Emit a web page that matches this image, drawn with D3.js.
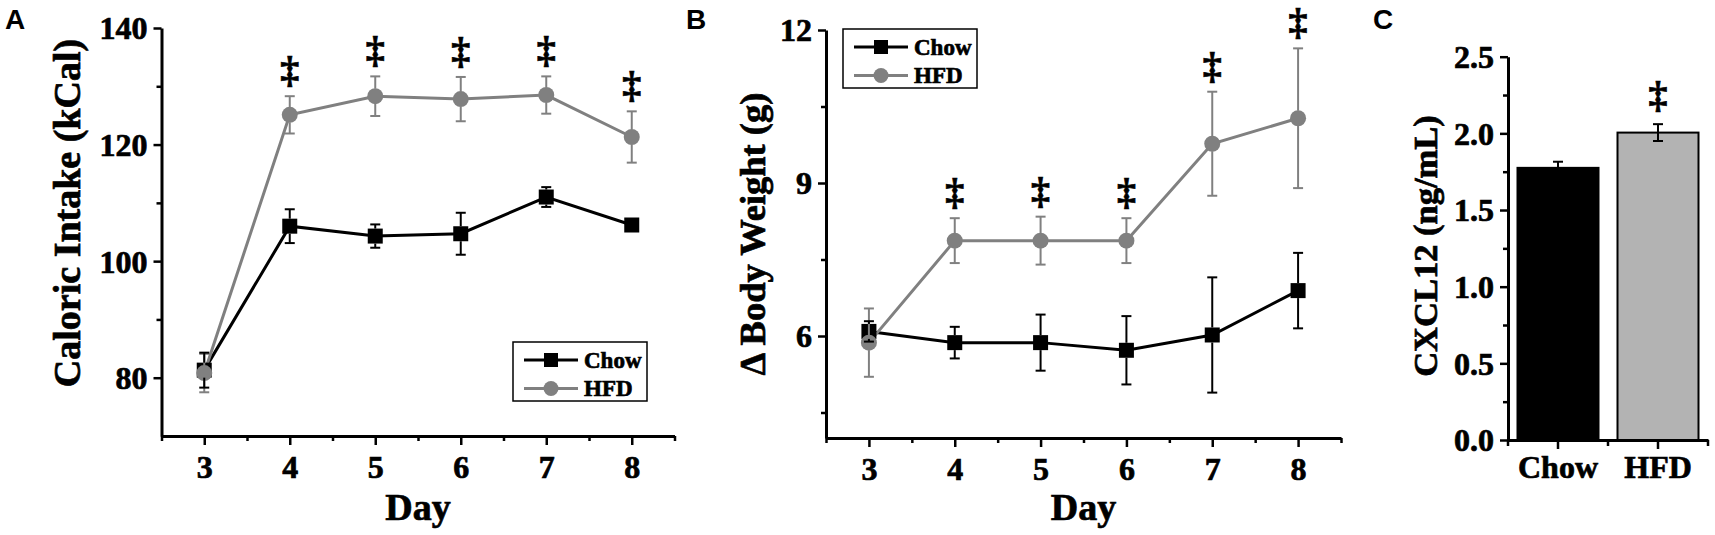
<!DOCTYPE html>
<html>
<head>
<meta charset="utf-8">
<script src="https://cdn.jsdelivr.net/npm/d3@7/dist/d3.min.js"></script>
<style>
  html, body { margin: 0; padding: 0; background: #fff; }
  svg { display: block; }
  text { font-family: "Liberation Serif", "Times New Roman", serif; font-weight: bold; fill: #000; }
  .panel-letter { font-family: "Liberation Sans", Arial, sans-serif; font-weight: bold; }
  .heavy { stroke: #000; stroke-width: 0.7px; paint-order: stroke; }
</style>
</head>
<body>
<svg id="chart" width="1715" height="535"></svg>
<script>
// ---------------- DATA ----------------
const days = [3, 4, 5, 6, 7, 8];
const seriesNames = ["Chow", "HFD"];

// Panel A: Caloric intake (kCal)
const caloricChow    = [81.3, 106.0, 104.3, 104.7, 111.0, 106.2];
const caloricChowErr = [3.0, 2.9, 2.0, 3.6, 1.7, 1.0];
const caloricHFD     = [80.8, 125.1, 128.3, 127.8, 128.5, 121.3];
const caloricHFDErr  = [3.3, 3.2, 3.4, 3.8, 3.2, 4.4];
const caloricSig     = [false, true, true, true, true, true];
const caloricTicks   = [80, 100, 120, 140];
const caloricMinor   = [90, 110, 130];

// Panel B: Delta body weight (g)
const weightChow    = [6.09, 5.87, 5.87, 5.72, 6.02, 6.89];
const weightChowErr = [0.20, 0.31, 0.55, 0.67, 1.13, 0.74];
const weightHFD     = [5.87, 7.87, 7.87, 7.87, 9.77, 10.27];
const weightHFDErr  = [0.67, 0.44, 0.47, 0.44, 1.02, 1.37];
const weightSig     = [false, true, true, true, true, true];
const weightTicks   = [6, 9, 12];
const weightMinor   = [4.5, 7.5, 10.5];

// Panel C: CXCL12 (ng/mL)
const cxclGroups = ["Chow", "HFD"];
const cxclValues = [1.775, 2.005];
const cxclErr    = [0.04, 0.055];
const cxclSig    = [false, true];
const cxclTicks  = [0, 0.5, 1.0, 1.5, 2.0, 2.5];
const cxclMinor  = [0.25, 0.75, 1.25, 1.75, 2.25];

const dayTicks  = [3, 4, 5, 6, 7, 8];
const dayMinor  = [2.5, 3.5, 4.5, 5.5, 6.5, 7.5, 8.5];

// ---------------- STYLE ----------------
const BLACK = "#000000";
const GRAY = "#808080";
const TICK_FONT = 32;
const DAGGER_FONT = 38;
const svg = d3.select("#chart");

function styleAxis(g) {
  g.select(".domain").attr("stroke", "#000").attr("stroke-width", 3);
  g.selectAll(".tick line").attr("stroke", "#000").attr("stroke-width", 2.5);
  g.selectAll(".tick text").attr("font-size", TICK_FONT).attr("fill", "#000").attr("class", "heavy");
}

function linePanel(opts) {
  const { x, y, chow, chowErr, hfd, hfdErr, sig, yTicks, yMinor, yFmt, ylabel, ylabelPos, ylabelSize, legend } = opts;
  const g = svg.append("g");
  const [x0, x1] = x.range();
  const [yb, yt] = y.range();

  // axes
  const gy = g.append("g").attr("transform", `translate(${x0},0)`)
    .call(d3.axisLeft(y).tickValues(yTicks).tickSize(8).tickSizeOuter(0).tickPadding(6).tickFormat(yFmt));
  styleAxis(gy);
  gy.selectAll(".tick text").attr("dy", "0.34em");
  const gym = g.append("g").attr("transform", `translate(${x0},0)`)
    .call(d3.axisLeft(y).tickValues(yMinor).tickSize(5).tickFormat(""));
  gym.select(".domain").remove();
  gym.selectAll(".tick line").attr("stroke", "#000").attr("stroke-width", 2.5);

  const gx = g.append("g").attr("transform", `translate(0,${yb})`)
    .call(d3.axisBottom(x).tickValues(dayTicks).tickSize(9).tickSizeOuter(0).tickPadding(10).tickFormat(d3.format("d")));
  styleAxis(gx);
  const gxm = g.append("g").attr("transform", `translate(0,${yb})`)
    .call(d3.axisBottom(x).tickValues(dayMinor).tickSize(5).tickFormat(""));
  gxm.select(".domain").remove();
  gxm.selectAll(".tick line").attr("stroke", "#000").attr("stroke-width", 2.5);

  // axis titles
  g.append("text").attr("class", "heavy").attr("x", (x0 + x1) / 2).attr("y", 520).attr("text-anchor", "middle")
    .attr("font-size", 38).text("Day");
  g.append("text").attr("class", "heavy").attr("transform", `translate(${ylabelPos[0]},${ylabelPos[1]}) rotate(-90)`)
    .attr("text-anchor", "middle").attr("dy", "0.25em").attr("font-size", ylabelSize).text(ylabel);

  const series = [
    { vals: chow, err: chowErr, color: BLACK, shape: "square" },
    { vals: hfd, err: hfdErr, color: GRAY, shape: "circle" }
  ];
  const line = d3.line().x((d, i) => x(days[i])).y(d => y(d));

  // lines
  series.forEach(s => {
    g.append("path").datum(s.vals).attr("d", line).attr("fill", "none")
      .attr("stroke", s.color).attr("stroke-width", 3);
  });
  // markers
  series.forEach(s => {
    if (s.shape === "square") {
      g.selectAll(null).data(s.vals).join("rect")
        .attr("x", (d, i) => x(days[i]) - 7.5).attr("y", d => y(d) - 7.5)
        .attr("width", 15).attr("height", 15).attr("fill", s.color);
    } else {
      g.selectAll(null).data(s.vals).join("circle")
        .attr("cx", (d, i) => x(days[i])).attr("cy", d => y(d)).attr("r", 8).attr("fill", s.color);
    }
  });
  // error bars (HFD then Chow)
  [series[1], series[0]].forEach(s => {
    s.vals.forEach((v, i) => {
      const cx = x(days[i]);
      const top = y(v + s.err[i]), bot = y(v - s.err[i]);
      if (top < y(v) - 7.5) g.append("line").attr("x1", cx).attr("x2", cx).attr("y1", top).attr("y2", y(v) - 7.5)
        .attr("stroke", s.color).attr("stroke-width", 2);
      if (bot > y(v) + 7.5) g.append("line").attr("x1", cx).attr("x2", cx).attr("y1", y(v) + 7.5).attr("y2", bot)
        .attr("stroke", s.color).attr("stroke-width", 2);
      [top, bot].forEach(yy => g.append("line").attr("x1", cx - 5).attr("x2", cx + 5)
        .attr("y1", yy).attr("y2", yy).attr("stroke", s.color).attr("stroke-width", 2));
    });
  });
  // significance daggers
  hfd.forEach((v, i) => {
    if (!sig[i]) return;
    g.append("text").attr("class", "heavy").attr("x", x(days[i])).attr("y", y(v + hfdErr[i]) - 13)
      .attr("text-anchor", "middle").attr("font-size", DAGGER_FONT).text("\u2021");
  });

  // legend
  const [lx, ly] = legend;
  const lg = g.append("g").attr("transform", `translate(${lx},${ly})`);
  lg.append("rect").attr("width", 134).attr("height", 59).attr("fill", "#fff")
    .attr("stroke", "#000").attr("stroke-width", 1.5);
  series.forEach((s, k) => {
    const yy = 18 + k * 28.5;
    lg.append("line").attr("x1", 11).attr("x2", 65).attr("y1", yy).attr("y2", yy)
      .attr("stroke", s.color).attr("stroke-width", 3);
    if (s.shape === "square") lg.append("rect").attr("x", 31).attr("y", yy - 7).attr("width", 14).attr("height", 14).attr("fill", s.color);
    else lg.append("circle").attr("cx", 38).attr("cy", yy).attr("r", 7.5).attr("fill", s.color);
    lg.append("text").attr("class", "heavy").attr("x", 71).attr("y", yy).attr("dy", "0.34em").attr("font-size", 23).text(seriesNames[k]);
  });
}

// Panel A
linePanel({
  x: d3.scaleLinear().domain([2.5, 8.5]).range([161.5, 674.5]),
  y: d3.scaleLinear().domain([70, 140]).range([436, 28]),
  chow: caloricChow, chowErr: caloricChowErr, hfd: caloricHFD, hfdErr: caloricHFDErr, sig: caloricSig,
  yTicks: caloricTicks, yMinor: caloricMinor, yFmt: d3.format("d"),
  ylabel: "Caloric Intake (kCal)", ylabelPos: [70, 213], ylabelSize: 38, legend: [513, 342]
});

// Panel B
linePanel({
  x: d3.scaleLinear().domain([2.5, 8.5]).range([826, 1341]),
  y: d3.scaleLinear().domain([4, 12]).range([438, 30]),
  chow: weightChow, chowErr: weightChowErr, hfd: weightHFD, hfdErr: weightHFDErr, sig: weightSig,
  yTicks: weightTicks, yMinor: weightMinor, yFmt: d3.format("d"),
  ylabel: "\u0394 Body Weight (g)", ylabelPos: [756, 234], ylabelSize: 36.5, legend: [843, 29]
});

// Panel C
(function () {
  const g = svg.append("g");
  const x = d3.scaleBand().domain(cxclGroups).range([1508, 1708]).paddingInner(0.19).paddingOuter(0.095);
  const y = d3.scaleLinear().domain([0, 2.5]).range([440, 56.7]);
  const fills = ["#000000", "#b3b3b3"];

  g.selectAll(null).data(cxclValues).join("rect")
    .attr("x", (d, i) => x(cxclGroups[i])).attr("y", d => y(d))
    .attr("width", x.bandwidth()).attr("height", d => y(0) - y(d))
    .attr("fill", (d, i) => fills[i]).attr("stroke", "#000").attr("stroke-width", 2);
  cxclValues.forEach((v, i) => {
    const cx = x(cxclGroups[i]) + x.bandwidth() / 2;
    const lo = i === 0 ? v : v - cxclErr[i];
    g.append("line").attr("x1", cx).attr("x2", cx).attr("y1", y(v + cxclErr[i])).attr("y2", y(lo))
      .attr("stroke", "#000").attr("stroke-width", 2);
    g.append("line").attr("x1", cx - 5).attr("x2", cx + 5).attr("y1", y(v + cxclErr[i])).attr("y2", y(v + cxclErr[i]))
      .attr("stroke", "#000").attr("stroke-width", 2);
    if (i !== 0) {
      g.append("line").attr("x1", cx - 5).attr("x2", cx + 5).attr("y1", y(lo)).attr("y2", y(lo))
        .attr("stroke", "#000").attr("stroke-width", 2);
    }
    if (cxclSig[i]) {
      g.append("text").attr("class", "heavy").attr("x", cx).attr("y", y(v + cxclErr[i]) - 16)
        .attr("text-anchor", "middle").attr("font-size", DAGGER_FONT).text("\u2021");
    }
  });

  const gy = g.append("g").attr("transform", `translate(1508,0)`)
    .call(d3.axisLeft(y).tickValues(cxclTicks).tickSize(8).tickSizeOuter(0).tickPadding(6).tickFormat(d3.format(".1f")));
  styleAxis(gy);
  gy.selectAll(".tick text").attr("dy", "0.34em");
  const gym = g.append("g").attr("transform", `translate(1508,0)`)
    .call(d3.axisLeft(y).tickValues(cxclMinor).tickSize(5).tickFormat(""));
  gym.select(".domain").remove();
  gym.selectAll(".tick line").attr("stroke", "#000").attr("stroke-width", 2.5);

  const gx = g.append("g").attr("transform", `translate(0,440)`)
    .call(d3.axisBottom(x).tickSize(9).tickSizeOuter(0).tickPadding(6));
  styleAxis(gx);
  // minor ticks at band edges
  const edges = [x.range()[0], x("HFD") - (x.step() - x.bandwidth()) / 2, x.range()[1]];
  edges.forEach(ex => g.append("line").attr("x1", ex).attr("x2", ex)
    .attr("y1", 440).attr("y2", 446).attr("stroke", "#000").attr("stroke-width", 2.5));

  g.append("text").attr("class", "heavy").attr("transform", `translate(1428,246) rotate(-90)`)
    .attr("text-anchor", "middle").attr("dy", "0.25em").attr("font-size", 34.5).text("CXCL12 (ng/mL)");
})();

// Panel letters
svg.append("text").attr("class", "panel-letter").attr("x", 5).attr("y", 29).attr("font-size", 28).text("A");
svg.append("text").attr("class", "panel-letter").attr("x", 686).attr("y", 29).attr("font-size", 28).text("B");
svg.append("text").attr("class", "panel-letter").attr("x", 1373).attr("y", 29).attr("font-size", 28).text("C");
</script>
</body>
</html>
